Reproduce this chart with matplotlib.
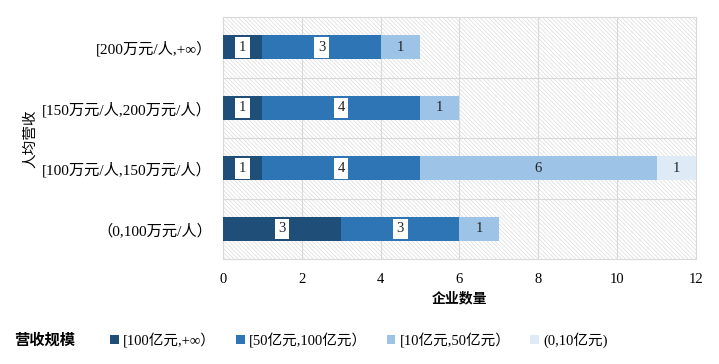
import matplotlib.pyplot as plt
from matplotlib.patches import Rectangle
import numpy as np

plt.rcParams['font.family'] = ['Liberation Serif', 'Noto Sans CJK SC', 'DejaVu Sans']
plt.rcParams['hatch.linewidth'] = 0.5
plt.rcParams['hatch.color'] = '#dcdcdc'

categories = ['（0,100万元/人）', '[100万元/人,150万元/人）',
              '[150万元/人,200万元/人）', '[200万元/人,+∞）']
series_names = ['[100亿元,+∞）', '[50亿元,100亿元）', '[10亿元,50亿元）', '(0,10亿元)']
s1 = [3, 1, 1, 1]
s2 = [3, 4, 4, 3]
s3 = [1, 6, 1, 1]
s4 = [0, 1, 0, 0]
colors = ['#1f4e79', '#2e75b6', '#9dc3e6', '#deebf7']

fig = plt.figure(figsize=(7.19, 3.64), dpi=100)
ax = fig.add_axes([0.310, 0.288, 0.658, 0.665])

# hatched background
ax.add_patch(Rectangle((0, 0), 1, 1, transform=ax.transAxes, facecolor='white',
                       hatch='\\' * 8, edgecolor='#dcdcdc', linewidth=0, zorder=0))

y = np.arange(len(categories))
left = np.zeros(len(categories))
for i, vals in enumerate([s1, s2, s3, s4]):
    vals = np.array(vals)
    ax.barh(y, vals, left=left, height=0.4, color=colors[i], label=series_names[i], zorder=3)
    for yy, l, v in zip(y, left, vals):
        if v == 0:
            continue
        if i < 2:
            ax.text(l + v / 2, yy, str(v), ha='center', va='center', fontsize=10.5,
                    color='#222222', zorder=4,
                    bbox=dict(boxstyle='square,pad=0.25', facecolor='white', edgecolor='none'))
        else:
            ax.text(l + v / 2, yy, str(v), ha='center', va='center', fontsize=10.5,
                    color='#222222', zorder=4)
    left = left + vals

ax.set_xlim(0, 12)
ax.set_ylim(-0.5, 3.5)
ax.set_xticks(range(0, 13, 2))
ax.set_yticks(y)
ax.set_yticklabels(categories, fontsize=11)
ax.tick_params(axis='x', labelsize=10.5, length=0, pad=10)
ax.tick_params(axis='y', length=0, pad=8)
for xv in range(2, 12, 2):
    ax.axvline(xv, color='#d9d9d9', linewidth=0.8, zorder=1)
for yv in [0.5, 1.5, 2.5]:
    ax.axhline(yv, color='#d9d9d9', linewidth=0.8, zorder=1)
for sp in ax.spines.values():
    sp.set_color('#d9d9d9')
    sp.set_linewidth(0.8)

ax.set_xlabel('企业数量', fontsize=10, fontweight='bold', labelpad=4)
fig.text(0.042, 0.62, '人均营收', rotation=90, ha='center', va='center', fontsize=10.5)

fig.text(0.02, 0.065, '营收规模', ha='left', va='center', fontsize=11, fontweight='bold')
handles, labels = ax.get_legend_handles_labels()
fig.legend(handles, labels, loc='center left', bbox_to_anchor=(0.145, 0.065), ncol=4,
           frameon=False, fontsize=10.5, handlelength=0.6, handleheight=0.6,
           handletextpad=0.3, columnspacing=1.35, borderaxespad=0)

fig.savefig('out.png', dpi=100)
